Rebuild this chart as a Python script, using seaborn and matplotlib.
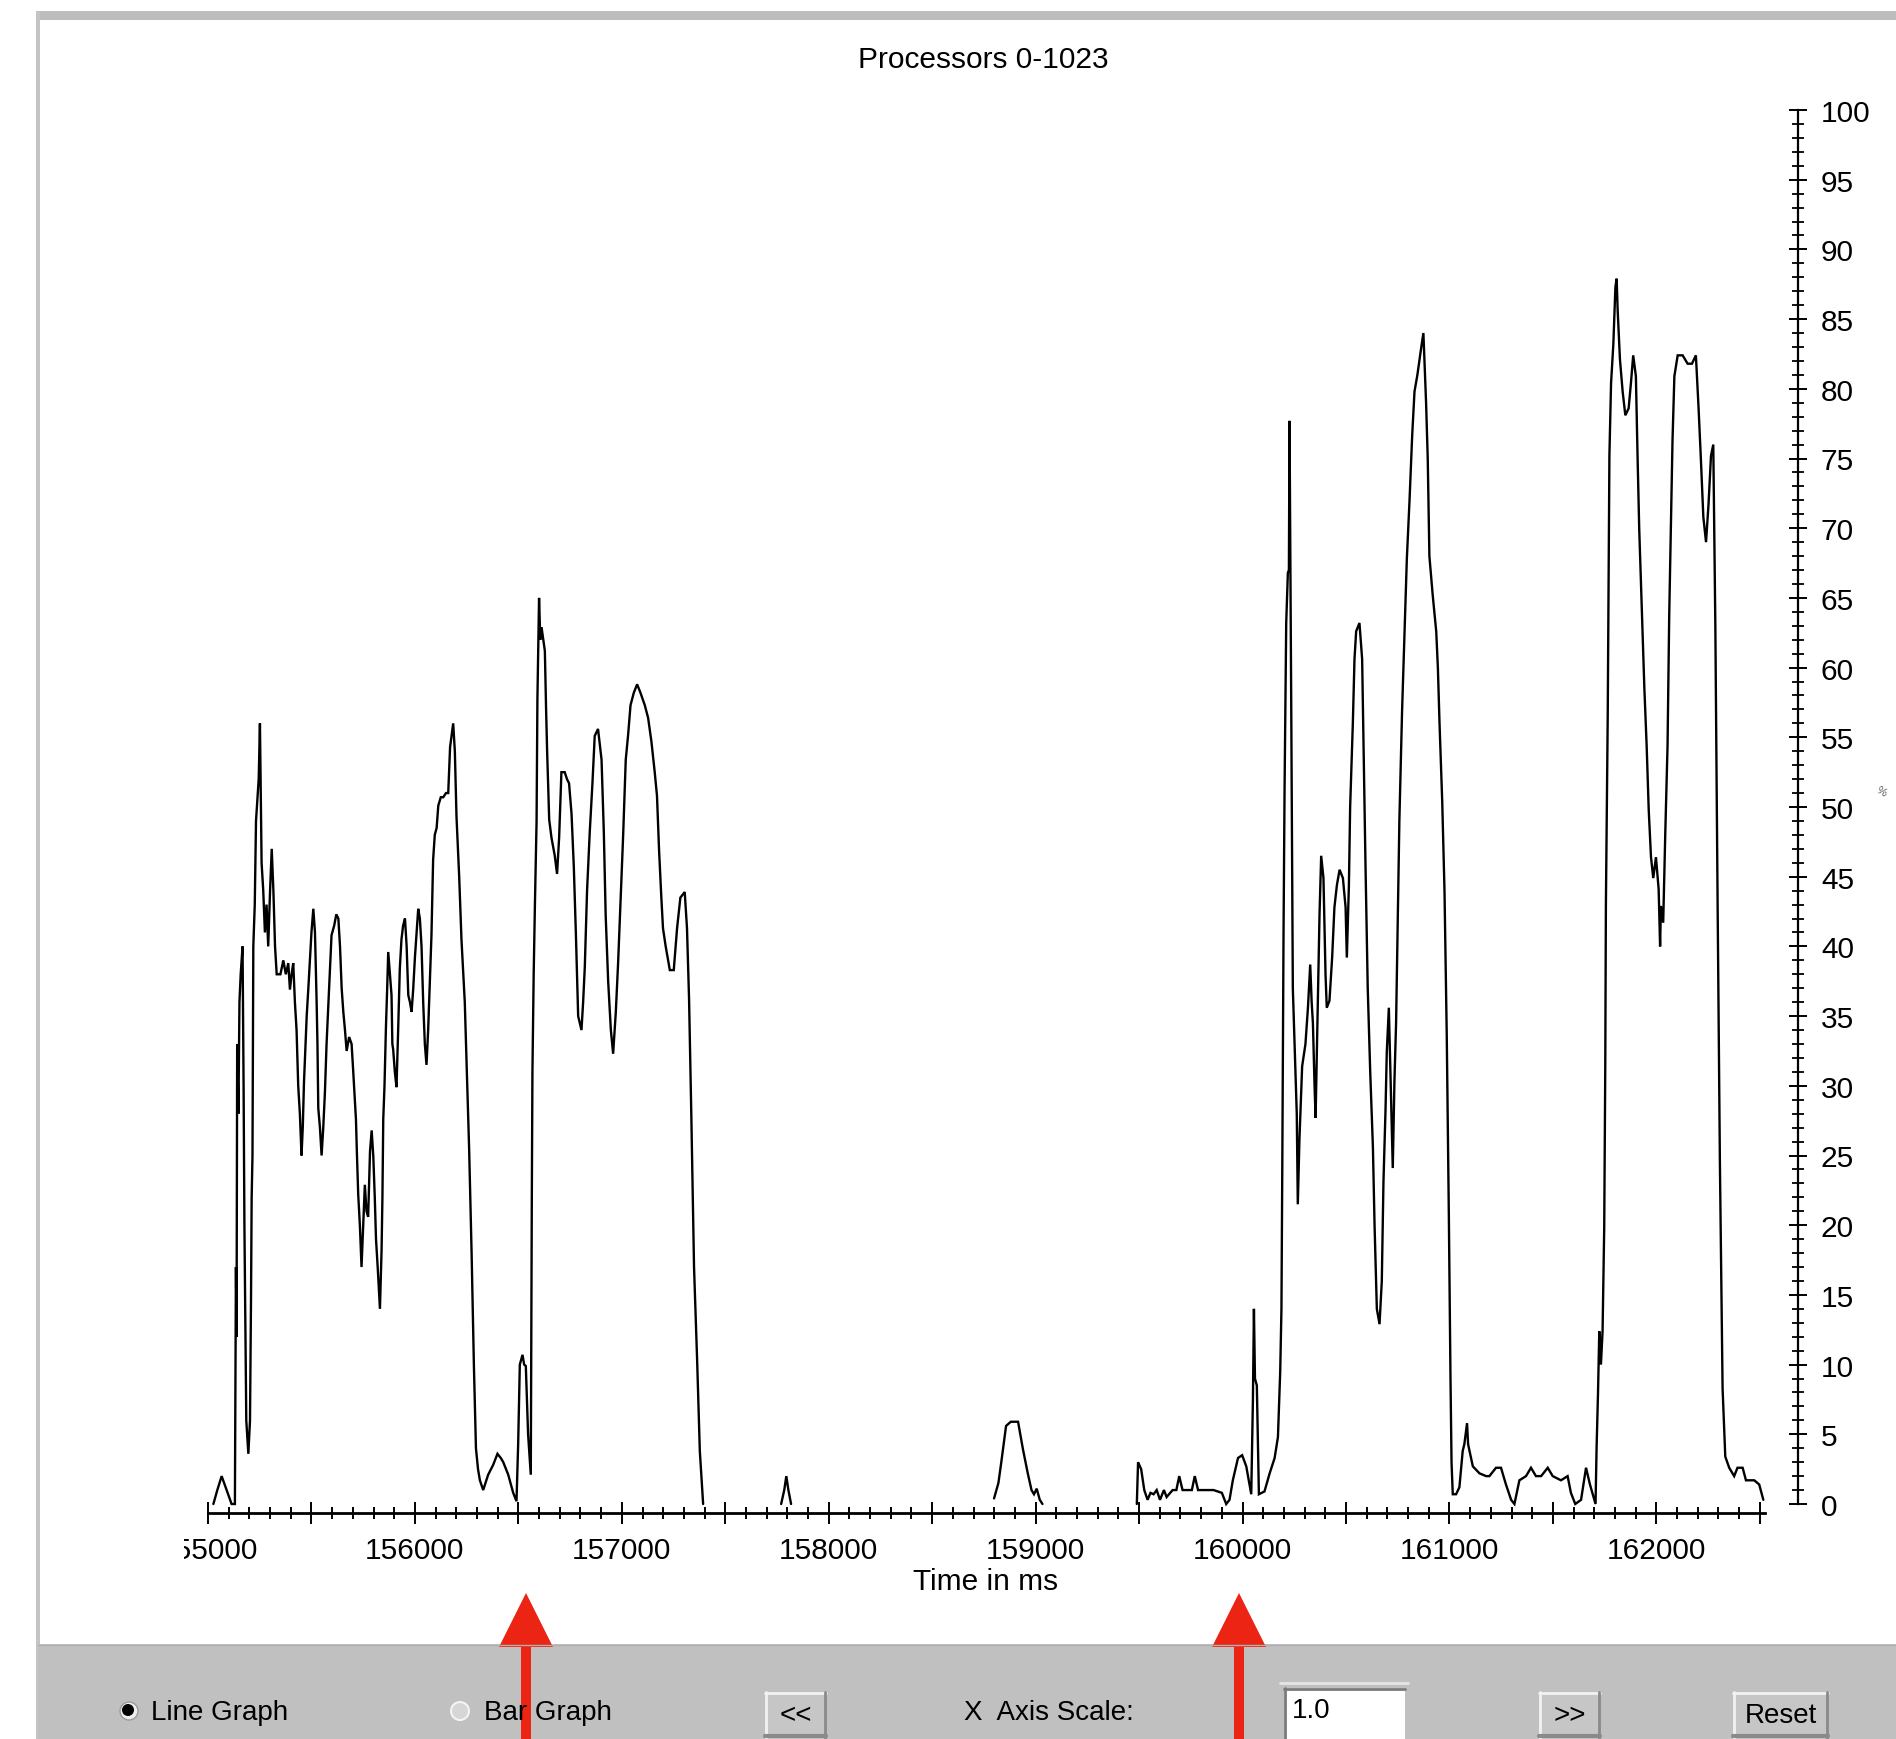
import numpy as np
import pandas as pd
import seaborn as sns
import matplotlib
matplotlib.use("Agg")
import matplotlib.pyplot as plt
from matplotlib.ticker import MultipleLocator, FuncFormatter
from matplotlib.patches import Rectangle, Circle, Polygon
from matplotlib.transforms import Bbox

# ---------------- data (time in ms, CPU utilisation in %) ----------------
burst1_time = [155026, 155045, 155066, 155090, 155114, 155130, 155135, 155138, 155141, 155147,
               155152, 155158, 155167, 155172, 155176, 155185, 155195, 155203, 155208, 155211,
               155215, 155219, 155226, 155232, 155245, 155251, 155255, 155259, 155267, 155275,
               155283, 155291, 155300, 155308, 155316, 155324, 155332, 155350, 155364, 155376,
               155388, 155396, 155404, 155412, 155420, 155428, 155436, 155444, 155452, 155458,
               155464, 155477, 155485, 155493, 155500, 155509, 155517, 155525, 155529, 155533,
               155541, 155549, 155557, 155565, 155573, 155586, 155597, 155610, 155620, 155630,
               155638, 155646, 155654, 155662, 155670, 155682, 155694, 155702, 155715, 155720,
               155726, 155734, 155742, 155750, 155758, 155766, 155774, 155783, 155791, 155799,
               155806, 155812, 155820, 155831, 155839, 155843, 155847, 155853, 155860, 155866,
               155871, 155879, 155887, 155891, 155895, 155903, 155911, 155919, 155927, 155935,
               155943, 155952, 155960, 155968, 155976, 155984, 155992, 156000, 156008, 156016,
               156024, 156032, 156040, 156048, 156056, 156064, 156072, 156080, 156088, 156096,
               156105, 156113, 156125, 156137, 156150, 156161, 156170, 156185, 156193, 156201,
               156214, 156225, 156241, 156249, 156262, 156274, 156285, 156295, 156305, 156314,
               156330, 156354, 156378, 156399, 156415, 156427, 156451, 156475, 156491, 156499,
               156507, 156520, 156528, 156536, 156547, 156560, 156565, 156568, 156574, 156580,
               156588, 156592, 156600, 156606, 156612, 156628, 156634, 156639, 156649, 156660,
               156676, 156687, 156697, 156708, 156724, 156735, 156745, 156757, 156768, 156778,
               156789, 156805, 156813, 156821, 156832, 156845, 156858, 156869, 156885, 156902,
               156913, 156922, 156934, 156947, 156958, 156971, 156982, 156993, 157006, 157019,
               157030, 157042, 157058, 157074, 157090, 157111, 157127, 157143, 157159, 157170,
               157180, 157191, 157199, 157212, 157232, 157251, 157267, 157283, 157304, 157315,
               157325, 157336, 157349, 157364, 157377, 157393]
burst1_util = [0, 1, 2, 1, 0, 0, 17, 12, 33, 28,
               36, 38, 40, 30, 20, 6, 3.6, 6, 15, 22,
               25, 40, 43, 49, 52, 56, 51, 46, 44, 41,
               43, 40, 44, 47, 44, 40, 38, 38, 39, 38,
               38.8, 36.9, 38, 38.8, 36, 34, 30, 28, 25, 27,
               30.3, 35, 37, 39.2, 41, 42.7, 41, 36, 33, 28.4,
               27, 25, 27, 29.5, 33, 37.3, 40.8, 41.5, 42.3, 42,
               40, 37, 35.3, 34, 32.5, 33.5, 33, 31, 27.6, 25,
               22.2, 20, 17, 20, 22.9, 21, 20.6, 25.3, 26.8, 24.9,
               22, 19, 17, 14, 18.3, 22, 27.6, 30, 34.2, 37,
               39.6, 38, 36.5, 33, 32.6, 31, 29.9, 34, 38.4, 40.5,
               41.5, 42, 40, 36.5, 36, 35.3, 37, 39.2, 41, 42.7,
               42, 40, 36, 33, 31.5, 34, 37.3, 40.8, 46.2, 48,
               48.5, 50.1, 50.7, 50.7, 51, 51, 54.3, 56, 54, 49.3,
               45, 40.5, 36, 32, 25.5, 18, 10, 4, 2.5, 1.7,
               1.0, 2.1, 2.8, 3.6, 3.3, 3.0, 2.1, 0.8, 0.2, 4.3,
               10, 10.7, 10, 9.9, 5, 2.1, 22, 31, 38, 43,
               49, 57.7, 65, 62, 62.9, 61.2, 57, 54, 49.1, 47.8,
               46.5, 45.2, 47.8, 52.5, 52.5, 52, 51.7, 49.5, 45.7, 40.9,
               35, 34, 36, 38.5, 44, 48.2, 51.7, 55.1, 55.6, 53.4,
               48.2, 42.2, 37.5, 34, 32.3, 35.3, 38.8, 43, 47.8, 53.4,
               55.1, 57.3, 58.2, 58.8, 58.2, 57.3, 56.4, 54.7, 52.5, 50.8,
               46.9, 43.5, 41.3, 40, 38.3, 38.3, 41.3, 43.5, 43.9, 41.3,
               36.2, 27.8, 17, 10.3, 3.8, 0]

burst2_time = [157770, 157785, 157795, 157805, 157818]
burst2_util = [0, 1, 2, 1, 0]

burst3_time = [158799, 158820, 158834, 158857, 158880, 158915, 158939, 158962, 158980, 158992,
               159005, 159020, 159033]
burst3_util = [0.4, 1.5, 3, 5.6, 5.9, 5.9, 3.9, 2.2, 1, 0.7,
               1.1, 0.3, 0]

burst4_time = [159489, 159495, 159510, 159525, 159541, 159555, 159570, 159585, 159601, 159620,
               159633, 159662, 159680, 159694, 159710, 159725, 159755, 159769, 159785, 159816,
               159860, 159900, 159921, 159937, 159953, 159978, 159998, 160018, 160042, 160050,
               160055, 160060, 160069, 160079, 160106, 160131, 160155, 160171, 160182, 160188,
               160192, 160198, 160203, 160211, 160219, 160224, 160227, 160232, 160235, 160240,
               160243, 160256, 160262, 160267, 160275, 160288, 160304, 160316, 160327, 160334,
               160340, 160348, 160353, 160364, 160372, 160380, 160391, 160401, 160407, 160420,
               160433, 160444, 160456, 160469, 160485, 160498, 160504, 160514, 160520, 160533,
               160541, 160549, 160565, 160578, 160585, 160594, 160605, 160617, 160630, 160638,
               160649, 160662, 160673, 160681, 160691, 160697, 160707, 160713, 160718, 160726,
               160734, 160742, 160750, 160758, 160771, 160783, 160794, 160807, 160820, 160831,
               160845, 160862, 160874, 160887, 160895, 160903, 160919, 160936, 160944, 160952,
               160965, 160976, 160987, 160997, 161005, 161010, 161016, 161032, 161048, 161064,
               161072, 161085, 161090, 161097, 161113, 161145, 161177, 161193, 161225, 161249,
               161273, 161298, 161314, 161338, 161370, 161394, 161418, 161443, 161475, 161499,
               161539, 161571, 161587, 161608, 161636, 161660, 161679, 161700, 161706, 161711,
               161718, 161724, 161732, 161740, 161748, 161753, 161756, 161765, 161773, 161781,
               161792, 161802, 161808, 161813, 161824, 161837, 161850, 161866, 161877, 161888,
               161901, 161909, 161917, 161930, 161942, 161953, 161963, 161974, 161985, 161998,
               162011, 162018, 162022, 162033, 162043, 162054, 162062, 162070, 162078, 162087,
               162103, 162127, 162151, 162172, 162191, 162204, 162215, 162227, 162240, 162252,
               162264, 162275, 162285, 162296, 162307, 162320, 162333, 162352, 162376, 162392,
               162417, 162433, 162473, 162497, 162517]
burst4_util = [0, 3, 2.5, 1, 0.3, 0.8, 0.7, 1, 0.3, 1,
               0.5, 1, 1, 2, 1, 1, 1, 2, 1, 1,
               1, 0.8, 0, 0.3, 1.7, 3.3, 3.5, 2.7, 0.7, 7.4,
               14, 9, 8.5, 0.7, 0.9, 2.2, 3.3, 4.8, 9.5, 14,
               24, 40.8, 51.2, 63.2, 66.8, 67, 77.7, 66, 58, 44,
               37, 30.9, 28, 21.5, 26.2, 31.4, 33, 35.6, 38.7, 36,
               34.5, 30, 27.7, 36.1, 42.3, 46.5, 44.9, 38, 35.6, 36.1,
               39.2, 42.8, 44.4, 45.5, 44.9, 42.8, 39.2, 44.4, 50, 56,
               60.6, 62.6, 63.2, 60.6, 54, 46, 37, 31, 25.6, 20,
               14, 12.9, 16, 23.1, 28.3, 32.4, 35.6, 32, 28.8, 24.1,
               30.3, 34.5, 41.8, 49.1, 56.9, 62.6, 67.8, 72, 76.7, 79.8,
               81, 82.8, 84, 79, 75, 68, 65.2, 62.6, 60, 56,
               50.4, 44, 33.5, 20.7, 9, 3, 0.7, 0.7, 1.2, 3.8,
               4.3, 5.8, 4.3, 3.8, 2.7, 2.2, 2, 2, 2.6, 2.6,
               1.4, 0.3, 0, 1.7, 2, 2.6, 2, 2, 2.6, 2,
               1.7, 2, 0.8, 0, 0.3, 2.6, 1.4, 0.3, 0, 4,
               8, 12.4, 10, 12.4, 19.9, 31.4, 42.9, 56.7, 75.2, 80.4,
               83.2, 87.3, 87.9, 85.6, 82.1, 79.8, 78.1, 78.6, 80.4, 82.4,
               80.9, 75.2, 70, 64, 58.5, 54.4, 49.8, 46.4, 44.9, 46.4,
               44.1, 40, 42.9, 41.7, 48.1, 54.4, 63.7, 70, 76.3, 80.9,
               82.4, 82.4, 81.8, 81.8, 82.4, 78.6, 75, 70.8, 69, 71.7,
               75.2, 76, 63, 43, 24.5, 8.3, 3.4, 2.6, 2, 2.6,
               2.6, 1.7, 1.7, 1.4, 0.3]

x_start, x_end = 155000, 162525
x_label_step, x_major_step, x_minor_step = 1000, 500, 100
y_major_step, y_minor_step = 5, 1

title_text = "Processors 0-1023"
xlabel_text = "Time in ms"
ylabel_text = "%"

# ---------------- figure ----------------
sns.set_theme(style="white")
plt.rcParams["font.family"] = ["Liberation Sans", "DejaVu Sans"]

W, H = 1896, 1740
fig = plt.figure(figsize=(W / 100, H / 100), dpi=100)
fig.patch.set_facecolor("white")


def fr(x0, y0, x1, y1):
    return [x0 / W, 1 - y1 / H, (x1 - x0) / W, (y1 - y0) / H]


frames = []
for i, (t, u) in enumerate([(burst1_time, burst1_util), (burst2_time, burst2_util),
                            (burst3_time, burst3_util), (burst4_time, burst4_util)]):
    frames.append(pd.DataFrame({"time": t, "util": u, "burst": i}))
df = pd.concat(frames, ignore_index=True)

ax = fig.add_axes(fr(208, 111, 1765, 1505))
sns.lineplot(data=df, x="time", y="util", units="burst", estimator=None,
             color="black", linewidth=1.7, ax=ax, legend=False)
ax.set_xlim(x_start, x_end)
ax.set_ylim(0, 100)
for ln in ax.lines:
    ln.set_clip_on(False)
    ln.set_solid_joinstyle("miter")
ax.set_facecolor("none")
ax.set_xlabel("")
ax.set_ylabel("")

for s in ["top", "left"]:
    ax.spines[s].set_visible(False)
for s in ["bottom", "right"]:
    ax.spines[s].set_color("black")
ax.spines["bottom"].set_linewidth(2.0)
ax.spines["right"].set_linewidth(1.6)
ax.spines["bottom"].set_position(("outward", 6.5))
ax.spines["bottom"].set_bounds(x_start, x_end)
ax.spines["right"].set_position(("outward", 23.8))
ax.spines["right"].set_bounds(0, 100)

ax.yaxis.tick_right()
ax.xaxis.set_major_locator(MultipleLocator(x_major_step))
ax.xaxis.set_minor_locator(MultipleLocator(x_minor_step))
ax.xaxis.set_major_formatter(FuncFormatter(
    lambda v, p: f"{int(round(v))}" if int(round(v)) % x_label_step == 0 else ""))
ax.yaxis.set_major_locator(MultipleLocator(y_major_step))
ax.yaxis.set_minor_locator(MultipleLocator(y_minor_step))
ax.yaxis.set_major_formatter(FuncFormatter(lambda v, p: f"{int(round(v))}"))

ax.tick_params(axis="x", which="both", bottom=True, top=False)
ax.tick_params(axis="x", which="major", direction="inout", length=16.5, width=1.4,
               color="black", pad=8, labelsize=21.5, labelcolor="black")
ax.tick_params(axis="x", which="minor", direction="inout", length=8, width=1.4, color="black")
ax.tick_params(axis="y", which="both", right=True, left=False)
ax.tick_params(axis="y", which="major", direction="inout", length=13, width=1.4,
               color="black", pad=10, labelsize=21.5, labelcolor="black",
               labelright=True, labelleft=False)
ax.tick_params(axis="y", which="minor", direction="inout", length=8, width=1.3,
               color="black")

fig.canvas.draw()
for tick in ax.xaxis.get_major_ticks():
    if abs(tick.get_loc() - x_start) < 1:
        tick.label1.set_clip_box(Bbox([[184, 0], [W, H]]))
        tick.label1.set_clip_on(True)

# ---------------- overlay: frame, texts, control panel, arrows ----------------
ov = fig.add_axes([0, 0, 1, 1], zorder=5)
ov.set_xlim(0, W)
ov.set_ylim(H, 0)
ov.axis("off")
ov.patch.set_alpha(0)

ov.add_patch(Rectangle((38, 12), W - 38, 9, fc="#bdbdbd", ec="none"))
ov.add_patch(Rectangle((36, 12), 4, H - 12, fc="#c4c4c4", ec="none"))

ov.text(983, 60, title_text, ha="center", va="center", fontsize=21.5, color="black")
ov.text(986, 1582, xlabel_text, ha="center", va="center", fontsize=21.5, color="black")
ov.text(1881, 792, ylabel_text, ha="center", va="center", fontsize=8, color="#555555",
        rotation=-30)

panel_c = "#c0c0c0"
ov.add_patch(Rectangle((38, 1645), W - 38, H - 1645, fc=panel_c, ec="none"))
ov.plot([38, W], [1645.5, 1645.5], color="#b0b0b0", lw=1)

# radio buttons
ov.add_patch(Circle((129, 1712), 9, fc="#eeeeee", ec="#9a9a9a", lw=1))
ov.add_patch(Circle((128, 1711), 6, fc="black", ec="none"))
ov.add_patch(Circle((460, 1712), 9, fc="#d6d6d6", ec="#f4f4f4", lw=1.5))
ov.text(151, 1713, "Line Graph", ha="left", va="center", fontsize=20, color="black")
ov.text(484, 1713, "Bar Graph", ha="left", va="center", fontsize=20, color="black")


def button(x0, x1, y0, label):
    ov.add_patch(Rectangle((x0, y0), x1 - x0, H - y0 + 5, fc="#c6c6c6", ec="none"))
    ov.plot([x0, x1], [y0 + 1, y0 + 1], color="#f2f2f2", lw=2)
    ov.plot([x0 + 1, x0 + 1], [y0, H], color="#f2f2f2", lw=2)
    ov.plot([x1 - 1, x1 - 1], [y0, H], color="#8a8a8a", lw=2)
    ov.plot([x0, x1], [H - 3, H - 3], color="#8a8a8a", lw=3)
    ov.text((x0 + x1) / 2, 1716, label, ha="center", va="center", fontsize=20, color="black")


button(765, 826, 1693, "<<")
button(1539, 1600, 1693, ">>")
button(1733, 1828, 1693, "Reset")

ov.text(964, 1713, "X  Axis Scale:", ha="left", va="center", fontsize=20, color="black")
ov.add_patch(Rectangle((1284, 1689), 121, H - 1689 + 5, fc="white", ec="none"))
ov.plot([1284, 1405], [1690, 1690], color="#7a7a7a", lw=2)
ov.plot([1285, 1285], [1689, H], color="#7a7a7a", lw=2)
ov.plot([1280, 1408], [1684, 1684], color="#e6e6e6", lw=2)
ov.text(1292, 1711, "1.0", ha="left", va="center", fontsize=20, color="black")

# red arrows
arrow_x = [526, 1239]
for ax_x in arrow_x:
    ov.add_patch(Polygon([(ax_x, 1594), (ax_x - 27, 1648), (ax_x - 5, 1648), (ax_x - 5, H + 2),
                          (ax_x + 5, H + 2), (ax_x + 5, 1648), (ax_x + 27, 1648)],
                         closed=True, fc="#ec2414", ec="none"))

fig.savefig("out.png", dpi=100, facecolor="white")
